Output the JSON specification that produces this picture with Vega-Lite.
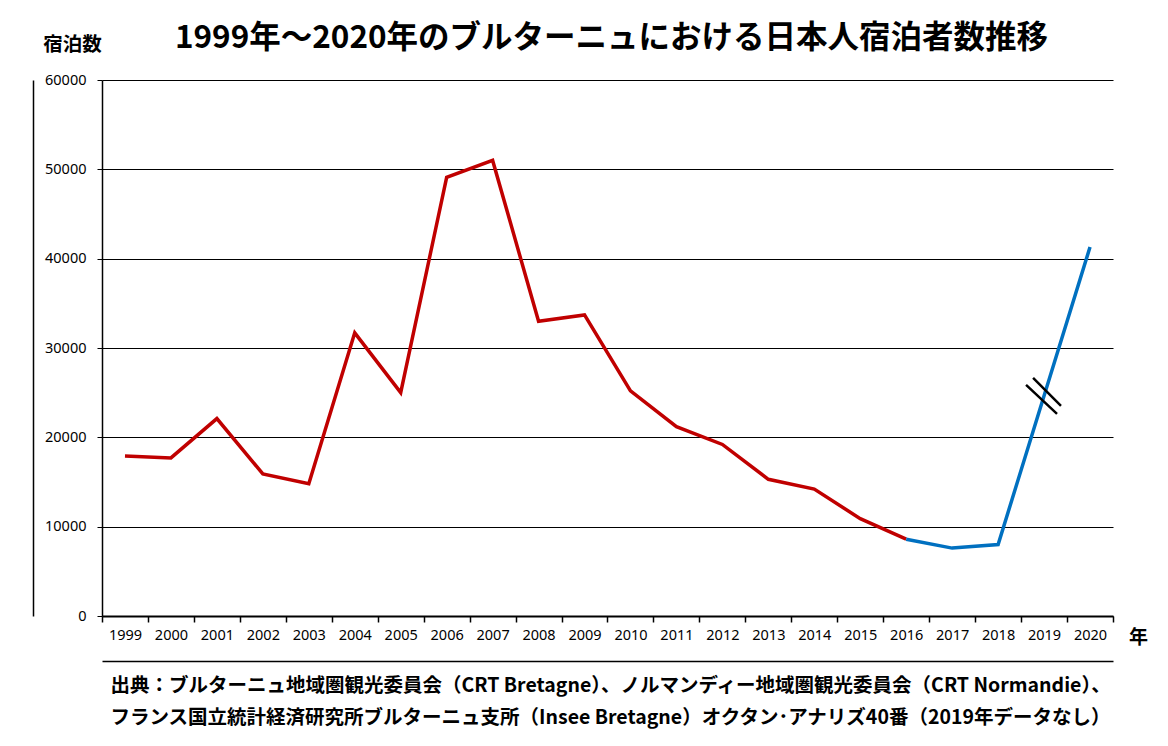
{
  "$schema": "https://vega.github.io/schema/vega-lite/v6.json",
  "width": 1011,
  "height": 536,
  "autosize": {"type": "none"},
  "padding": {"left": 102, "top": 80, "right": 55, "bottom": 130},
  "background": "white",
  "title": {
    "text": "1999年～2020年のブルターニュにおける日本人宿泊者数推移",
    "font": "Noto Sans CJK JP",
    "fontSize": 31.5,
    "fontWeight": "bold",
    "color": "black",
    "anchor": "middle",
    "frame": "group",
    "offset": 0,
    "dy": 20,
    "dx": 4
  },
  "config": {
    "view": {"stroke": null},
    "axis": {
      "labelFont": "Noto Sans",
      "labelFontSize": 14.5,
      "labelColor": "black",
      "titleFont": "Noto Sans CJK JP",
      "titleColor": "black",
      "domainColor": "black",
      "tickColor": "black"
    }
  },
  "layer": [
    {
      "data": {
        "values": [
          {"year": "1999", "value": 17900, "series": "a"},
          {"year": "2000", "value": 17700, "series": "a"},
          {"year": "2001", "value": 22100, "series": "a"},
          {"year": "2002", "value": 15900, "series": "a"},
          {"year": "2003", "value": 14800, "series": "a"},
          {"year": "2004", "value": 31700, "series": "a"},
          {"year": "2005", "value": 25000, "series": "a"},
          {"year": "2006", "value": 49100, "series": "a"},
          {"year": "2007", "value": 51000, "series": "a"},
          {"year": "2008", "value": 33000, "series": "a"},
          {"year": "2009", "value": 33700, "series": "a"},
          {"year": "2010", "value": 25200, "series": "a"},
          {"year": "2011", "value": 21200, "series": "a"},
          {"year": "2012", "value": 19200, "series": "a"},
          {"year": "2013", "value": 15300, "series": "a"},
          {"year": "2014", "value": 14200, "series": "a"},
          {"year": "2015", "value": 10900, "series": "a"},
          {"year": "2016", "value": 8600, "series": "a"},
          {"year": "2016", "value": 8600, "series": "b"},
          {"year": "2017", "value": 7600, "series": "b"},
          {"year": "2018", "value": 8000, "series": "b"},
          {"year": "2020", "value": 41300, "series": "b"}
        ]
      },
      "mark": {"type": "line", "strokeWidth": 3.5, "strokeJoin": "miter"},
      "encoding": {
        "x": {
          "field": "year",
          "type": "ordinal",
          "bandPosition": 0.5,
          "scale": {
            "type": "band",
            "paddingInner": 0,
            "paddingOuter": 0,
            "domain": ["1999","2000","2001","2002","2003","2004","2005","2006","2007","2008","2009","2010","2011","2012","2013","2014","2015","2016","2017","2018","2019","2020"]
          },
          "axis": {
            "orient": "bottom",
            "labelAngle": 0,
            "tickBand": "extent",
            "tickSize": 6,
            "domainWidth": 2,
            "tickWidth": 1.5,
            "labelPadding": 6,
            "title": "年",
            "titleFontSize": 19,
            "titleFontWeight": "bold",
            "titleAngle": 0,
            "titleX": 1036,
            "titleY": 21,
            "titleAlign": "center",
            "titleBaseline": "middle"
          }
        },
        "y": {
          "field": "value",
          "type": "quantitative",
          "scale": {"domain": [0, 60000]},
          "axis": {
            "orient": "left",
            "values": [0, 10000, 20000, 30000, 40000, 50000, 60000],
            "format": "d",
            "grid": true,
            "gridColor": "black",
            "gridWidth": 1,
            "gridOpacity": 1,
            "domainWidth": 1.5,
            "tickSize": 5,
            "labelPadding": 11,
            "title": "宿泊数",
            "titleFontSize": 19.5,
            "titleFontWeight": "bold",
            "titleAngle": 0,
            "titleX": -30,
            "titleY": -36,
            "titleAlign": "center",
            "titleBaseline": "middle"
          }
        },
        "color": {
          "field": "series",
          "type": "nominal",
          "scale": {"domain": ["a", "b"], "range": ["#C00000", "#0070C0"]},
          "legend": null
        }
      }
    },
    {
      "data": {"values": [{"year": "2019", "value": 24650}]},
      "mark": {
        "type": "point",
        "shape": "M-0.61,-1L0.94,0.56M-1,-0.61L0.72,1",
        "size": 1296,
        "filled": false,
        "stroke": "black",
        "strokeWidth": 2.5,
        "opacity": 1
      },
      "encoding": {
        "x": {
          "field": "year",
          "type": "ordinal",
          "bandPosition": 0.5,
          "scale": {
            "type": "band",
            "paddingInner": 0,
            "paddingOuter": 0,
            "domain": ["1999","2000","2001","2002","2003","2004","2005","2006","2007","2008","2009","2010","2011","2012","2013","2014","2015","2016","2017","2018","2019","2020"]
          },
          "axis": {
            "orient": "bottom",
            "offset": 45,
            "domain": true,
            "domainWidth": 1.5,
            "ticks": false,
            "labels": false,
            "title": ["出典：ブルターニュ地域圏観光委員会（CRT Bretagne）、ノルマンディー地域圏観光委員会（CRT Normandie）、", "フランス国立統計経済研究所ブルターニュ支所（Insee Bretagne）オクタン･アナリズ40番（2019年データなし）"],
            "titleFontSize": 19.5,
            "titleFontWeight": "bold",
            "titleLineHeight": 32,
            "titleAngle": 0,
            "titleX": 8,
            "titleY": 24,
            "titleAlign": "left",
            "titleBaseline": "middle"
          }
        },
        "y": {
          "field": "value",
          "type": "quantitative",
          "axis": {
            "orient": "left",
            "offset": 69,
            "domain": true,
            "domainWidth": 1.5,
            "ticks": false,
            "labels": false,
            "grid": false,
            "title": null
          }
        }
      }
    }
  ],
  "resolve": {"axis": {"x": "independent", "y": "independent"}}
}
